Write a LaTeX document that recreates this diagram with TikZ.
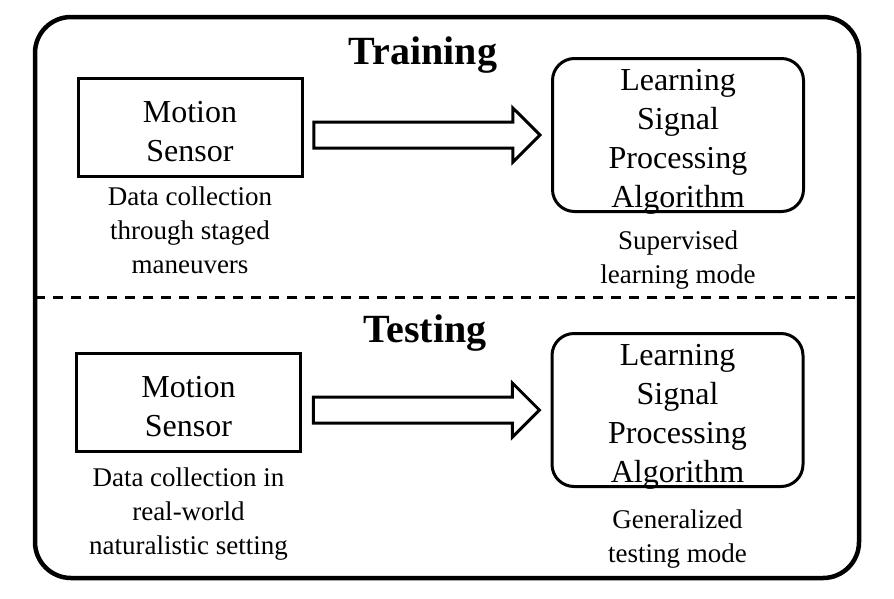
\documentclass[tikz,border=0pt]{standalone}
\usepackage{fontspec}
\setmainfont{Liberation Serif}
\usetikzlibrary{positioning, shapes.arrows}

\newcommand{\toppad}[1]{\rule{0pt}{#1}}

\begin{document}
\begin{tikzpicture}[x=1pt, y=-1pt,
    box/.style={draw, line width=3pt, minimum width=224pt, minimum height=98pt, align=center, font=\fontsize{32}{39}\selectfont},
    lsp/.style={draw, line width=3pt, rounded corners=22pt, minimum width=251pt, minimum height=153pt, inner sep=0pt, align=center, font=\fontsize{32}{39}\selectfont},
    note/.style={align=center, font=\fontsize{27}{34}\selectfont},
    ttl/.style={font=\fontsize{40}{48}\selectfont\bfseries},
    bigarrow/.style={draw, line width=3pt, single arrow, single arrow head extend=14pt, inner xsep=0pt, inner ysep=11.5pt, minimum height=226pt, anchor=tip}]
    \useasboundingbox (0,0) rectangle (894,598);
    % frame and divider
    \draw[line width=4.5pt, rounded corners=36pt] (35,17) rectangle (859,578);
    \draw[line width=3pt, dash pattern=on 10pt off 8pt] (35,297) -- (859,297);

    % training
    \node[ttl] (train) at (423,55) {Training};
    \node[box] (ms1) at (190,127) {\toppad{30pt}Motion\\Sensor};
    \node[lsp] (lsp1) at (678,135) {\toppad{28pt}Learning\\Signal\\Processing\\\smash{Algorithm}};
    \node[note, below=14pt of lsp1] (n2) {Supervised\\learning mode};
    \node[note, below=6pt of ms1] (n1) {Data collection\\through staged\\maneuvers};
    \node[bigarrow] (arr1) at ([xshift=-9pt]lsp1.west) {};

    % testing
    \node[ttl] (test) at (425,333) {Testing};
    \node[box] (ms2) at (188.5,402.5) {\toppad{30pt}Motion\\Sensor};
    \node[lsp] (lsp2) at (677.5,410) {\toppad{28pt}Learning\\Signal\\Processing\\\smash{Algorithm}};
    \node[note, below=11pt of ms2] (n3) {Data collection in\\real-world\\naturalistic setting};
    \node[note, below=18pt of lsp2] (n4) {Generalized\\testing mode};
    \node[bigarrow] (arr2) at ([xshift=-9pt]lsp2.west) {};
\end{tikzpicture}
\end{document}
